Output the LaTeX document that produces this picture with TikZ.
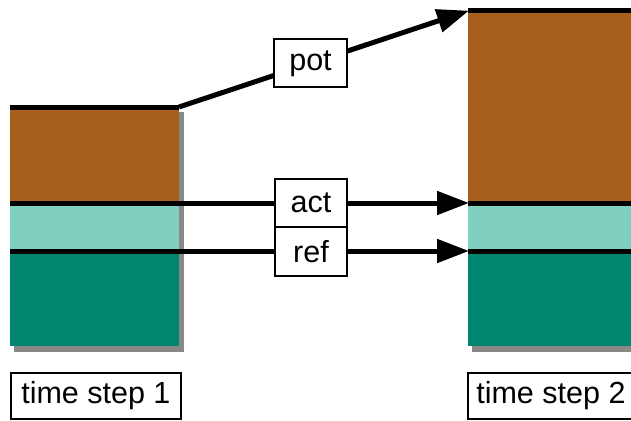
\documentclass[tikz,border=0pt]{standalone}
\usepackage{fontspec}
\setmainfont{Liberation Sans}
\usetikzlibrary{arrows.meta}
\definecolor{potc}{RGB}{166,96,28}
\definecolor{actc}{RGB}{128,208,192}
\definecolor{refc}{RGB}{0,133,112}
\definecolor{shadc}{RGB}{136,136,136}
\tikzset{
  x=1pt, y=-1pt,
  layer/.style={inner sep=0pt, outer sep=0pt, draw=none, anchor=north west},
  shadowbox/.style={fill=shadc, draw=none},
  sep/.style={line width=5pt},
  conn/.style={line width=5pt, -{Triangle[length=32pt,width=23pt]}, shorten >=-1pt},
  lbl/.style={draw=black, line width=1.8pt, fill=white, inner sep=0pt,
              font=\fontsize{30.5}{35}\selectfont},
}
\begin{document}
\begin{tikzpicture}
\useasboundingbox (0,0) rectangle (631,420);
\clip (0,0) rectangle (631,420);
% shadows
\fill[shadowbox] (14,112) rectangle (184,352);
\fill[shadowbox] (472,16) rectangle (660,352);
% left column
\node[layer, fill=potc, minimum width=169pt, minimum height=96pt] (Lp) at (10,107) {};
\node[layer, fill=actc, minimum width=169pt, minimum height=48pt] (La) at (10,203) {};
\node[layer, fill=refc, minimum width=169pt, minimum height=95pt] (Lr) at (10,251) {};
% right column
\node[layer, fill=potc, minimum width=190pt, minimum height=192pt] (Rp) at (468,11) {};
\node[layer, fill=actc, minimum width=190pt, minimum height=48pt] (Ra) at (468,203) {};
\node[layer, fill=refc, minimum width=190pt, minimum height=95pt] (Rr) at (468,251) {};
% separators
\draw[sep] (Lp.north west) -- (Lp.north east);
\draw[sep] (Rp.north west) -- (Rp.north east);
\draw[sep] (Ra.north west) -- (Ra.north east);
\draw[sep] (Rr.north west) -- (Rr.north east);
% connectors
\draw[conn] (Lp.north east) -- node[lbl, pos=0.455, minimum width=73pt, minimum height=48pt] (pot) {pot} (Rp.north west);
\draw[conn] (La.north west) -- (Ra.north west);
\draw[conn] (Lr.north west) -- (Rr.north west);
\node[lbl, minimum width=72pt, minimum height=48pt] (act) at (311,203) {act};
\node[lbl, minimum width=72pt, minimum height=49pt] (ref) at (311,251.5) {ref};
% time step labels
\node[lbl, anchor=north west, minimum width=170pt, minimum height=46pt] (t1) at (10,372) {time step 1};
\node[lbl, anchor=north west, minimum width=172pt, minimum height=46pt] (t2) at (467,372) {\hspace*{-6pt}time step 2};
\end{tikzpicture}
\end{document}
